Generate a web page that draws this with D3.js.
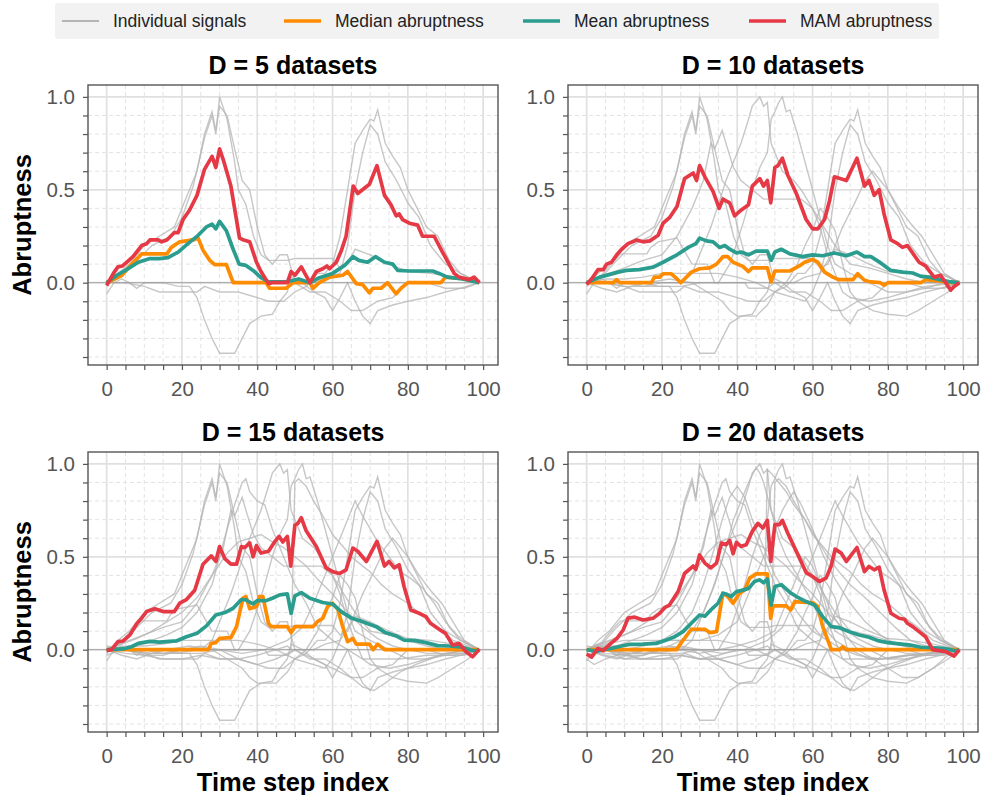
<!DOCTYPE html>
<meta charset="utf-8">
<style>
body { margin: 0; background: #fff; }
svg text { font-family: "Liberation Sans", Arial, sans-serif; }
</style>
<svg width="984" height="795"></svg>
<script src="https://d3js.org/d3.v7.min.js"></script>
<script>

// ---- data: [time step, abruptness] break points ----
var datasetCounts = [5, 10, 15, 20];
var xTicks = [0, 20, 40, 60, 80, 100];
var yTicks = [0, 0.5, 1.0];
var legendLabels = ["Individual signals", "Median abruptness", "Mean abruptness", "MAM abruptness"];

var signals = [
  [[0,0],[4,0.03],[8,0.12],[12,0.2],[17,0.25],[20,0.35],[23,0.52],[26,0.78],[28,0.9],[29,0.8],[30,1.0],[32,0.88],[34,0.65],[35,0.5],[37,0.42],[39,0.25],[41,0.15],[43,0.12],[48,0.12],[50,0.13],[60,0.13],[62,0.08],[64,0.1],[66,0.18],[70,0.15],[75,0.1],[80,0.06],[86,0.05],[92,0.03],[99,0]],
  [[0,-0.02],[3,0.05],[6,0.1],[10,0.2],[14,0.25],[18,0.3],[21,0.45],[24,0.6],[26,0.8],[28,0.92],[29,0.82],[30,0.95],[32,0.9],[34,0.72],[36,0.55],[38,0.5],[40,0.3],[42,0.15],[44,0.1],[46,0.15],[48,0.15],[50,0.0],[54,-0.05],[58,-0.05],[62,-0.1],[65,-0.15],[68,-0.15],[72,-0.1],[76,-0.08],[80,0.0],[85,0.0],[90,-0.03],[95,-0.03],[99,0]],
  [[0,-0.06],[2,0.0],[4,0.02],[6,0.0],[8,-0.03],[10,0.0],[15,0.0],[19,-0.02],[22,-0.02],[24,-0.08],[26,-0.2],[28,-0.3],[30,-0.38],[34,-0.38],[36,-0.3],[38,-0.22],[41,-0.18],[44,-0.17],[46,-0.1],[48,-0.05],[49,0.03],[52,0.0],[55,-0.05],[58,-0.08],[60,-0.15],[62,-0.08],[64,0.0],[66,-0.1],[68,-0.18],[70,-0.22],[72,-0.15],[76,-0.12],[80,-0.1],[85,-0.08],[90,-0.05],[94,-0.03],[99,0]],
  [[0,0.0],[5,0.0],[10,-0.02],[14,-0.05],[20,-0.05],[24,-0.05],[26,-0.02],[30,-0.05],[35,-0.05],[40,-0.08],[43,-0.1],[47,-0.1],[50,-0.05],[53,-0.02],[56,0.05],[58,0.05],[60,0.1],[62,0.25],[64,0.5],[66,0.75],[68,0.82],[70,0.88],[71,0.87],[72,0.93],[74,0.75],[76,0.68],[78,0.62],[80,0.5],[82,0.42],[85,0.3],[88,0.25],[91,0.12],[94,0.05],[97,0.02],[99,0]],
  [[0,0],[2,0.02],[4,0.04],[6,0.09],[9,0.155],[16,0.155],[17,0.19],[19,0.22],[24,0.24],[26,0.17],[28,0.1],[32,0.1],[34,0.0],[42,0.0],[43,-0.03],[48,-0.03],[50,0.0],[55,0.0],[58,0.03],[62,0.05],[64,0.2],[66,0.5],[68,0.7],[70,0.85],[72,0.8],[74,0.65],[77,0.55],[80,0.43],[83,0.35],[86,0.2],[90,0.1],[94,0.05],[99,0]],
  [[0,0],[5,0],[10,-0.02],[15,-0.02],[20,0.0],[25,0.0],[28,0.05],[30,0.15],[33,0.3],[35,0.42],[37,0.55],[39,0.65],[41,0.75],[43,0.88],[44,0.95],[46,1.0],[47,0.95],[48,0.97],[49,0.75],[50,0.7],[52,0.6],[55,0.55],[57,0.5],[60,0.4],[62,0.3],[64,0.15],[66,0.05],[68,-0.05],[70,-0.08],[75,-0.1],[80,-0.08],[85,-0.05],[90,-0.03],[95,0.0],[99,0]],
  [[0,0],[5,0.0],[10,0.0],[15,-0.02],[20,-0.02],[25,-0.02],[30,0.0],[35,0.0],[38,0.1],[40,0.22],[42,0.35],[44,0.5],[46,0.62],[48,0.7],[49,0.88],[50,0.92],[51,0.97],[52,1.0],[53,0.92],[54,0.93],[56,0.8],[58,0.65],[60,0.5],[62,0.35],[64,0.2],[66,0.1],[70,0.05],[75,0.0],[80,-0.05],[85,-0.05],[90,-0.02],[99,0]],
  [[0,0],[3,0.03],[6,0.05],[10,0.08],[15,0.12],[20,0.15],[24,0.25],[28,0.4],[31,0.55],[33,0.75],[34,0.72],[36,0.82],[37,0.75],[39,0.62],[41,0.55],[44,0.5],[47,0.45],[50,0.45],[53,0.45],[57,0.45],[60,0.4],[63,0.3],[66,0.2],[70,0.1],[75,0.08],[80,0.05],[85,0.02],[90,0.0],[99,0]],
  [[0,0],[4,-0.03],[8,-0.05],[12,-0.02],[16,0.0],[22,0.02],[28,0.0],[32,-0.05],[36,-0.1],[38,-0.15],[40,-0.18],[45,-0.18],[48,-0.12],[50,-0.05],[53,0.0],[56,0.1],[58,0.2],[60,0.28],[62,0.4],[64,0.35],[66,0.28],[68,0.1],[70,-0.05],[72,-0.1],[76,-0.15],[80,-0.17],[85,-0.18],[88,-0.15],[92,-0.1],[96,-0.05],[99,0]],
  [[0,0],[5,0.02],[10,0.02],[15,0.03],[20,0.05],[25,0.05],[30,0.05],[35,0.05],[40,0.03],[45,0.0],[50,-0.05],[55,-0.08],[58,-0.1],[60,-0.05],[62,0.05],[65,0.15],[68,0.3],[71,0.42],[74,0.55],[76,0.6],[78,0.55],[80,0.5],[83,0.4],[86,0.32],[89,0.25],[92,0.15],[95,0.05],[99,0]],
  [[0,0],[5,-0.02],[10,-0.03],[15,-0.05],[20,-0.05],[25,-0.03],[30,-0.05],[35,-0.05],[40,-0.03],[45,0.0],[48,0.02],[49,0.0],[50,0.9],[51,0.92],[53,0.88],[55,0.8],[58,0.7],[60,0.62],[63,0.55],[65,0.5],[68,0.45],[70,0.42],[73,0.35],[76,0.3],[80,0.25],[84,0.18],[88,0.12],[92,0.05],[96,0.02],[99,0]],
  [[0,-0.03],[4,0.0],[8,0.02],[12,0.05],[16,0.08],[20,0.12],[24,0.2],[28,0.35],[30,0.5],[32,0.65],[34,0.78],[36,0.9],[37,0.92],[38,0.85],[40,0.8],[42,0.78],[44,0.65],[46,0.55],[48,0.45],[50,0.35],[53,0.25],[56,0.12],[60,0.05],[64,0.0],[68,-0.05],[72,-0.05],[78,-0.05],[85,-0.03],[92,-0.03],[99,0]],
  [[0,0],[6,0.0],[12,-0.02],[18,-0.02],[24,0.0],[30,0.0],[36,-0.02],[42,0.0],[48,0.05],[52,0.12],[55,0.25],[58,0.4],[61,0.55],[63,0.65],[65,0.75],[66,0.8],[68,0.72],[70,0.65],[72,0.58],[75,0.5],[78,0.42],[81,0.38],[84,0.33],[87,0.25],[90,0.15],[93,0.08],[96,0.03],[99,0]],
  [[0,0.02],[5,0.0],[10,-0.03],[15,-0.03],[20,0.0],[25,0.02],[30,0.0],[35,-0.05],[40,-0.08],[45,-0.05],[50,0.0],[55,-0.05],[60,-0.1],[65,-0.15],[68,-0.2],[71,-0.22],[74,-0.18],[78,-0.12],[82,-0.08],[86,-0.05],[90,-0.02],[95,-0.02],[99,0]],
  [[0,0],[4,0.03],[8,0.06],[12,0.1],[16,0.15],[20,0.2],[24,0.28],[28,0.4],[32,0.52],[35,0.58],[38,0.6],[41,0.62],[44,0.58],[47,0.55],[50,0.5],[53,0.45],[56,0.38],[60,0.3],[64,0.2],[68,0.12],[72,0.06],[76,0.02],[80,0.0],[85,-0.02],[90,-0.02],[95,0.0],[99,0]],
  [[0,0],[5,0.0],[10,-0.05],[15,-0.05],[20,-0.03],[25,-0.03],[30,-0.05],[35,-0.03],[40,0.0],[44,0.0],[47,0.0],[48,0.97],[49,0.95],[51,0.9],[53,0.85],[55,0.78],[58,0.7],[61,0.6],[64,0.5],[67,0.42],[70,0.35],[74,0.28],[78,0.2],[82,0.12],[86,0.05],[90,0.02],[95,0.0],[99,0]],
  [[0,0],[5,-0.03],[10,-0.05],[15,-0.03],[20,0.0],[25,0.05],[28,0.1],[31,0.2],[34,0.35],[37,0.55],[39,0.7],[41,0.8],[43,0.9],[45,0.98],[46,0.95],[47,0.9],[49,0.75],[51,0.6],[53,0.5],[56,0.4],[60,0.25],[63,0.12],[66,0.05],[70,0.0],[75,-0.05],[80,-0.05],[86,-0.03],[92,-0.02],[99,0]],
  [[0,0],[5,0.02],[10,0.0],[15,0.02],[20,0.05],[24,0.1],[28,0.2],[31,0.35],[34,0.55],[36,0.7],[38,0.82],[40,0.88],[42,0.82],[44,0.7],[46,0.6],[48,0.5],[50,0.4],[53,0.3],[56,0.2],[60,0.1],[64,0.05],[68,0.0],[72,-0.03],[78,-0.05],[85,-0.03],[92,-0.02],[99,0]],
  [[0,-0.05],[2,-0.08],[5,-0.05],[8,-0.03],[12,-0.02],[16,0.0],[20,0.0],[25,0.0],[30,-0.02],[35,0.0],[40,0.02],[45,0.05],[50,0.1],[53,0.25],[56,0.4],[58,0.5],[60,0.45],[62,0.35],[65,0.2],[68,0.1],[72,0.0],[76,-0.05],[80,-0.1],[84,-0.15],[88,-0.15],[92,-0.1],[96,-0.03],[99,0]],
  [[0,0],[5,0.03],[10,0.05],[15,0.05],[20,0.05],[25,0.05],[30,0.05],[35,0.08],[40,0.15],[43,0.3],[46,0.45],[48,0.55],[50,0.65],[52,0.75],[54,0.82],[55,0.85],[57,0.78],[60,0.65],[63,0.5],[66,0.38],[70,0.25],[74,0.15],[78,0.08],[82,0.03],[88,0.0],[94,0.0],[99,0]]
];

var median5 = [[0,0],[2.2,0.02],[4,0.04],[6.2,0.09],[9.3,0.155],[16,0.155],[17.2,0.19],[19.4,0.22],[23,0.23],[24.3,0.24],[25.6,0.175],[27.4,0.12],[28.7,0.097],[31.8,0.097],[33.6,0],[42.4,0],[43.3,-0.03],[47.7,-0.03],[49.5,0],[54,0],[54.8,-0.03],[56.5,0],[59.2,0.03],[62.7,0.04],[64,0.06],[66.3,-0.005],[68,-0.01],[69.8,-0.055],[70.7,-0.03],[72.9,-0.03],[74.6,0],[76.9,-0.06],[78.2,-0.03],[80,0],[88.8,0],[90,0.03],[96,0.02],[99,0]];
var mean5 = [[0,0],[2.7,0.04],[5.3,0.07],[8.4,0.11],[11.5,0.13],[14,0.13],[16.3,0.135],[19,0.165],[21.6,0.21],[24.3,0.255],[26.5,0.3],[28,0.315],[29,0.29],[30,0.33],[31.8,0.28],[33.6,0.18],[35.2,0.1],[37,0.093],[38.9,0.066],[41,0.027],[43,0.005],[48,0.005],[51,0.02],[54,0],[56.5,0.027],[60,0.05],[63.2,0.093],[65.4,0.14],[67,0.12],[69.3,0.11],[71.4,0.14],[73.8,0.11],[76,0.1],[77.3,0.066],[80.4,0.063],[86.6,0.063],[88.3,0.05],[90.5,0.03],[94.5,0.02],[99,0]];
var mam5 = [[0,-0.015],[1.8,0.05],[3,0.085],[4.2,0.09],[5.3,0.11],[7,0.14],[9.3,0.2],[10.6,0.21],[11.5,0.23],[13.7,0.23],[14.6,0.22],[16,0.23],[18,0.27],[19,0.27],[20.3,0.34],[22,0.39],[24,0.47],[26,0.61],[28,0.68],[29,0.62],[30,0.72],[31,0.66],[33,0.52],[35.3,0.24],[36.4,0.23],[38,0.22],[39.8,0.11],[41,0.06],[43,-0.005],[44,0],[48,0],[49,0.06],[50,0.04],[51.7,0.085],[54,0],[55.7,0.06],[57.4,0.075],[58.5,0.09],[59.2,0.075],[61,0.11],[62.3,0.17],[63.6,0.25],[65.5,0.52],[66.7,0.48],[69.8,0.53],[71.8,0.63],[73.8,0.47],[75.5,0.42],[76.9,0.36],[77.7,0.37],[78.6,0.34],[80.4,0.32],[82.6,0.31],[83.9,0.25],[87,0.25],[89.2,0.165],[92.3,0.05],[93.6,0.03],[96.3,0.016],[97.6,0.03],[98.8,0.005],[99,0]];

var median10 = [[0,0],[7,0],[8,0.016],[8.8,0],[17.2,0],[18,0.03],[19.4,0.03],[20.3,0.048],[22.5,0.048],[24,0.02],[25,0],[26,0.02],[27.8,0.057],[30,0.075],[32.7,0.08],[34.5,0.1],[36.2,0.14],[37.5,0.14],[38.9,0.11],[41.5,0.088],[43,0.06],[44,0.08],[48,0.08],[49,0.004],[50,0.063],[54,0.063],[56.5,0.09],[57.9,0.11],[60,0.125],[61.4,0.11],[63.2,0.057],[65.4,0.03],[67,0.016],[70.7,0.016],[72,0.048],[73.8,0.013],[75.5,0.004],[78,0],[79,-0.014],[80,0],[88.8,0],[90,0.016],[93.6,0.01],[96.7,0],[99,0]];
var mean10 = [[0,0],[3.5,0.03],[8.4,0.057],[10.6,0.066],[14,0.07],[17.7,0.084],[20.3,0.11],[24,0.15],[27,0.19],[29,0.21],[30,0.24],[31.8,0.225],[33.6,0.22],[35.3,0.19],[36.7,0.2],[38,0.18],[39.8,0.16],[41,0.165],[43,0.15],[45,0.17],[48,0.17],[49,0.12],[50,0.165],[51.7,0.18],[54,0.155],[57.4,0.14],[60,0.15],[62.7,0.145],[65.8,0.16],[69,0.145],[71.8,0.165],[73.8,0.14],[75.5,0.14],[78.2,0.105],[80.8,0.066],[83.9,0.057],[86.6,0.052],[88.8,0.034],[91,0.03],[94.5,0.013],[96.7,0.004],[99,0]];
var mam10 = [[0,-0.01],[1.3,0.02],[3,0.07],[4.4,0.07],[5.3,0.1],[6.6,0.11],[8,0.15],[9.3,0.18],[11,0.21],[13.3,0.23],[15,0.22],[16.8,0.225],[19,0.255],[20.3,0.32],[22,0.35],[24,0.41],[26,0.56],[28.3,0.59],[29.2,0.55],[30,0.63],[31.4,0.57],[33.6,0.49],[35.2,0.4],[36.2,0.45],[38,0.43],[39.3,0.36],[41,0.39],[43,0.42],[44,0.52],[46,0.56],[47,0.52],[48,0.55],[48.9,0.43],[50,0.62],[50.8,0.63],[52,0.67],[53.4,0.58],[55.7,0.48],[58.3,0.34],[60,0.29],[61.4,0.29],[63.2,0.34],[64.5,0.44],[65.8,0.57],[69,0.55],[71.8,0.67],[73.8,0.52],[75,0.55],[76.4,0.47],[77.7,0.5],[79,0.37],[80.8,0.23],[82.6,0.21],[83.9,0.19],[85.2,0.2],[88.3,0.11],[90,0.09],[92.3,0.03],[94,0.04],[96.7,-0.04],[97.6,-0.02],[99,0]];

var median15 = [[0,0],[27,0],[27.8,0.034],[29,0.038],[30,0.061],[33,0.065],[34.5,0.124],[36.2,0.277],[37,0.286],[38,0.22],[39.8,0.232],[40.6,0.286],[41.5,0.286],[43,0.142],[43.7,0.124],[48,0.124],[49,0.092],[50,0.124],[54.8,0.124],[56,0.151],[57.4,0.169],[58.7,0.232],[60,0.25],[61.4,0.218],[62.7,0.124],[64,0.043],[65.4,0.061],[66.3,0.03],[69.8,0.03],[70.8,0],[72,0.03],[73.8,0],[96.3,0],[99,0]];
var mean15 = [[0,0],[4.4,0.004],[6.6,0.016],[8.4,0.034],[11.5,0.045],[14,0.041],[18.5,0.047],[21.2,0.07],[24,0.088],[26.5,0.128],[29,0.187],[31.4,0.2],[33.6,0.223],[35.8,0.27],[37,0.268],[38.9,0.246],[40,0.264],[42.4,0.264],[44,0.277],[46,0.295],[48,0.3],[49,0.196],[50,0.29],[51.7,0.307],[54,0.277],[57.4,0.254],[60,0.246],[62.3,0.205],[65,0.17],[68,0.15],[71.6,0.124],[74,0.092],[76.9,0.074],[79,0.052],[82,0.049],[84.8,0.038],[87.9,0.022],[91,0.02],[94.5,0.013],[96.7,-0.002],[98,-0.007],[99,0]];
var mam15 = [[0,-0.005],[1.3,0],[3,0.043],[4.4,0.047],[6.2,0.08],[8,0.14],[9.3,0.17],[10.6,0.205],[12.8,0.22],[15,0.205],[18,0.205],[19.4,0.25],[21.2,0.27],[23.4,0.32],[25.6,0.46],[27.8,0.505],[29,0.475],[30,0.555],[31.4,0.49],[33,0.46],[34.5,0.46],[35.8,0.555],[36.7,0.55],[38,0.575],[38.9,0.5],[39.8,0.56],[41,0.52],[43,0.53],[44.6,0.58],[45.8,0.61],[46.8,0.58],[48,0.61],[48.9,0.45],[50,0.67],[50.8,0.68],[51.7,0.71],[53,0.64],[55.7,0.555],[58.3,0.44],[60,0.42],[61.8,0.41],[63.6,0.43],[65.4,0.547],[66.7,0.53],[69,0.475],[71.8,0.583],[73.8,0.45],[75,0.475],[76.4,0.44],[77.7,0.457],[79,0.34],[80.8,0.214],[83,0.196],[84.8,0.178],[86,0.142],[88.3,0.11],[90,0.088],[91.9,0.025],[93.6,0.034],[95.4,-0.01],[97.2,-0.038],[99,0.002]];

var median20 = [[0,0],[23.9,0],[25,0.034],[27.8,0.11],[31.4,0.11],[32.7,0.092],[34.5,0.097],[36.2,0.304],[37.5,0.286],[38.9,0.25],[40.6,0.304],[42,0.322],[43.3,0.385],[45,0.408],[48,0.408],[48.9,0.169],[49.5,0.236],[53,0.236],[54.2,0.214],[55.3,0.259],[58.3,0.254],[60,0.254],[61.4,0.232],[62.7,0.124],[65,0],[67.2,0],[68,0.016],[69,0],[96.7,0],[99,0]];
var mean20 = [[0,0],[2.7,-0.01],[4,0],[6.2,0.005],[8.4,0.016],[11.5,0.029],[15,0.03],[18.5,0.034],[21.2,0.052],[23.4,0.07],[25.6,0.097],[27.8,0.142],[30,0.187],[31.4,0.18],[33,0.214],[34.9,0.25],[36.2,0.304],[37,0.3],[38.4,0.286],[39.8,0.313],[41,0.318],[43,0.33],[44.6,0.367],[46,0.376],[47,0.36],[48,0.38],[49,0.24],[50,0.34],[51.7,0.35],[54,0.308],[55.7,0.286],[58.3,0.259],[60.5,0.241],[62.7,0.178],[65,0.124],[67,0.119],[69.8,0.097],[72.4,0.079],[75,0.067],[77.3,0.049],[80,0.038],[83,0.031],[86,0.025],[88.8,0.013],[91.4,0.011],[94.5,0.007],[96.7,0],[98,-0.007],[99,0]];
var mam20 = [[0,-0.023],[1.3,-0.04],[3,0.007],[4.4,-0.005],[6.2,0.03],[8,0.06],[9.7,0.106],[11,0.17],[12.8,0.175],[15,0.16],[17.7,0.17],[19.4,0.196],[20.8,0.228],[22,0.24],[24.3,0.313],[26,0.41],[28.3,0.45],[29,0.433],[30,0.51],[31.4,0.466],[33,0.44],[34.5,0.466],[35.8,0.574],[37,0.565],[38,0.588],[38.9,0.516],[39.8,0.577],[41,0.556],[42.4,0.565],[44,0.637],[45.5,0.68],[46.8,0.655],[48,0.696],[48.9,0.475],[50,0.673],[51.2,0.673],[52,0.696],[53.4,0.628],[55.7,0.529],[58.3,0.415],[60,0.394],[61.8,0.367],[63.6,0.385],[64.9,0.448],[66,0.541],[67.6,0.52],[69,0.475],[71.8,0.55],[73.8,0.42],[75,0.448],[76.4,0.43],[77.7,0.444],[79,0.322],[80.8,0.196],[83,0.169],[84.4,0.164],[85.2,0.142],[86.6,0.124],[88.3,0.097],[90,0.07],[91.9,0],[93.6,-0.005],[95.4,-0.01],[97.6,-0.034],[99,0]];

var medians = [median5, median10, median15, median20];
var means = [mean5, mean10, mean15, mean20];
var mams = [mam5, mam10, mam15, mam20];

// ---- layout ----
var svg = d3.select("svg");
var colMedian = "#ff8c00", colMean = "#2a9d8f", colMam = "#e63946", colSignal = "#b4b4b4";
var pw = 410, ph = 280;
var origins = [[88, 85], [568, 85], [88, 452], [568, 452]];

var x = d3.scaleLinear().domain([-4.95, 103.95]).range([0, pw]);
var y = d3.scaleLinear().domain([-0.443, 1.064]).range([ph, 0]);
var line = d3.line().x(function(d) { return x(d[0]); }).y(function(d) { return y(d[1]); });

var minorX = d3.range(5, 105, 5).filter(function(v) { return v % 20 != 0; });
var minorY = d3.range(-4, 11).map(function(v) { return v / 10; }).filter(function(v) { return Math.round(v * 10) % 5 != 0; });

datasetCounts.forEach(function(D, i) {
  var g = svg.append("g").attr("transform", "translate(" + origins[i][0] + "," + origins[i][1] + ")");

  // minor grid (dashed)
  g.append("g").selectAll("line").data(minorX)
    .enter().append("line")
      .attr("x1", function(d) { return x(d); }).attr("x2", function(d) { return x(d); })
      .attr("y1", 0).attr("y2", ph)
      .attr("stroke", "#e3e3e3").attr("stroke-width", 1).attr("stroke-dasharray", "4,3");
  g.append("g").selectAll("line").data(minorY)
    .enter().append("line")
      .attr("y1", function(d) { return y(d); }).attr("y2", function(d) { return y(d); })
      .attr("x1", 0).attr("x2", pw)
      .attr("stroke", "#e3e3e3").attr("stroke-width", 1).attr("stroke-dasharray", "4,3");
  // major grid
  g.append("g").selectAll("line").data(xTicks)
    .enter().append("line")
      .attr("x1", function(d) { return x(d); }).attr("x2", function(d) { return x(d); })
      .attr("y1", 0).attr("y2", ph)
      .attr("stroke", "#e0e0e0").attr("stroke-width", 1.7);
  g.append("g").selectAll("line").data(yTicks)
    .enter().append("line")
      .attr("y1", function(d) { return y(d); }).attr("y2", function(d) { return y(d); })
      .attr("x1", 0).attr("x2", pw)
      .attr("stroke", "#e0e0e0").attr("stroke-width", 1.7);

  // individual signals
  g.append("g").selectAll("path").data(signals.slice(0, D))
    .enter().append("path")
      .attr("d", line)
      .attr("fill", "none").attr("stroke", colSignal).attr("stroke-opacity", 0.75).attr("stroke-width", 1.4);

  // zero line
  g.append("line").attr("x1", 0).attr("x2", pw).attr("y1", y(0)).attr("y2", y(0))
    .attr("stroke", "#999").attr("stroke-opacity", 0.7).attr("stroke-width", 1.3);

  [[medians[i], colMedian], [means[i], colMean], [mams[i], colMam]].forEach(function(s) {
    g.append("path").datum(s[0]).attr("d", line)
      .attr("fill", "none").attr("stroke", s[1]).attr("stroke-width", 3.7)
      .attr("stroke-linejoin", "round");
  });

  // frame
  g.append("rect").attr("width", pw).attr("height", ph)
    .attr("fill", "none").attr("stroke", "#555").attr("stroke-width", 1.4);

  // axes
  var ax = g.append("g").attr("transform", "translate(0," + ph + ")")
    .call(d3.axisBottom(x).tickValues(xTicks).tickSize(5).tickPadding(11));
  var axm = g.append("g").attr("transform", "translate(0," + ph + ")")
    .call(d3.axisBottom(x).tickValues(minorX).tickSize(5).tickFormat(""));
  var ay = g.append("g")
    .call(d3.axisLeft(y).tickValues(yTicks).tickSize(5).tickPadding(8).tickFormat(d3.format(".1f")));
  var aym = g.append("g")
    .call(d3.axisLeft(y).tickValues(minorY).tickSize(5).tickFormat(""));
  [ax, axm, ay, aym].forEach(function(a) {
    a.select(".domain").remove();
    a.selectAll("line").attr("stroke", "#555").attr("stroke-width", 1.2);
    a.selectAll("text").attr("fill", "#555").style("font-size", "20.5px")
      .style("font-family", "'Liberation Sans', Arial, sans-serif");
  });

  // title
  g.append("text").attr("x", pw / 2).attr("y", -11).attr("text-anchor", "middle")
    .style("font-size", "25px").style("font-weight", "bold").attr("fill", "#000")
    .text("D = " + D + " datasets");

  if (i % 2 == 0) {
    g.append("text").attr("transform", "translate(-57," + ph / 2 + ") rotate(-90)")
      .attr("text-anchor", "middle").style("font-size", "25.5px").style("font-weight", "bold")
      .text("Abruptness");
  }
  if (i >= 2) {
    g.append("text").attr("x", pw / 2).attr("y", ph + 59).attr("text-anchor", "middle")
      .style("font-size", "25.5px").style("font-weight", "bold")
      .text("Time step index");
  }
});

// legend
var lg = svg.append("g");
lg.append("rect").attr("x", 55).attr("y", 3).attr("width", 884).attr("height", 36)
  .attr("rx", 2).attr("fill", "#f2f2f2");
var legendX = [62, 284, 523, 749];
var legendCols = [colSignal, colMedian, colMean, colMam];
var legendW = [2, 3.7, 3.7, 3.7];
legendLabels.forEach(function(name, k) {
  lg.append("line").attr("x1", legendX[k]).attr("x2", legendX[k] + 37).attr("y1", 21).attr("y2", 21)
    .attr("stroke", legendCols[k]).attr("stroke-width", legendW[k]);
  lg.append("text").attr("x", legendX[k] + 51).attr("y", 27)
    .style("font-size", "17.5px").attr("fill", "#222").text(name);
});

</script>
